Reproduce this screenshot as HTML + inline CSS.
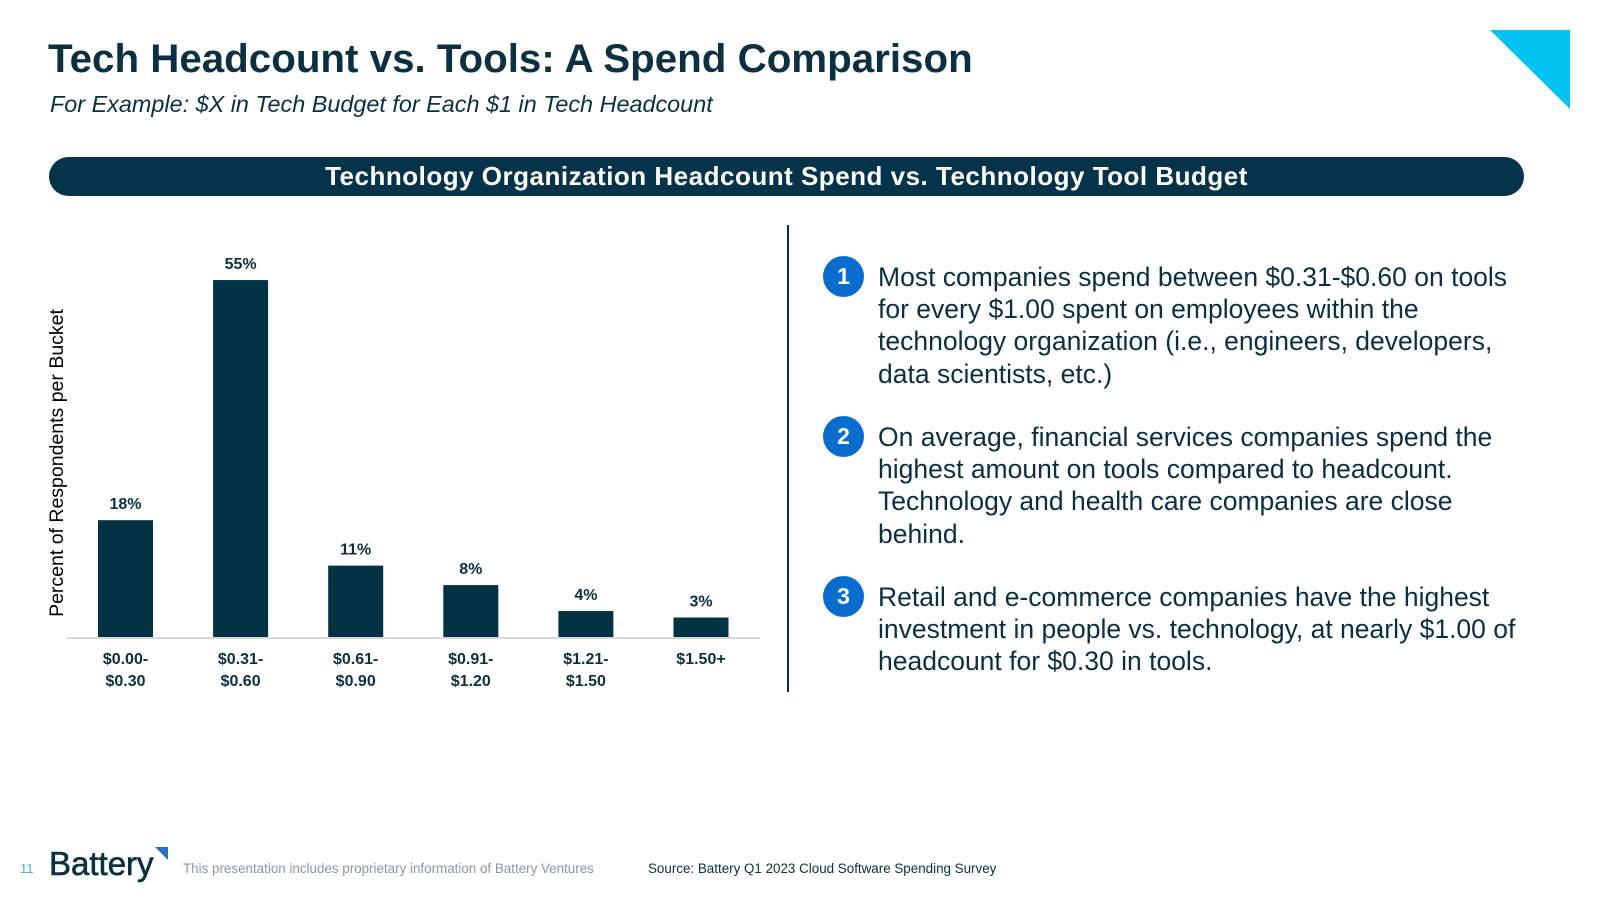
<!DOCTYPE html>
<html><head><meta charset="utf-8"><style>
body{margin:0;width:1600px;height:900px;background:#fff;position:relative;overflow:hidden;font-family:"Liberation Sans",sans-serif;color:#0a3042}
.abs{position:absolute}
.pt{position:absolute;left:878px;width:655px;font-size:26.5px;line-height:32.2px;letter-spacing:0;color:#0b2f42}
.num{position:absolute;left:823px;width:41px;height:41px;border-radius:50%;background:#0a6ccf;color:#fff;font-size:23px;font-weight:bold;text-align:center;line-height:41px}
</style></head><body>
<div class="abs" style="left:48px;top:36px;font-size:40.3px;font-weight:bold;color:#0a3042">Tech Headcount vs. Tools: A Spend Comparison</div>
<div class="abs" style="left:50px;top:91px;font-size:23.4px;font-style:italic;color:#0a3042">For Example: $X in Tech Budget for Each $1 in Tech Headcount</div>
<svg class="abs" style="left:1490px;top:30px" width="81" height="80"><polygon points="0,0 80,0 80,79" fill="#00c2f3"/></svg>
<div class="abs" style="left:49px;top:157px;width:1475px;height:39px;border-radius:20px;background:#05334a;color:#fff;font-size:26px;letter-spacing:0.5px;font-weight:bold;text-align:center;line-height:39px">Technology Organization Headcount Spend vs. Technology Tool Budget</div>
<div class="abs" style="left:787px;top:225px;width:2px;height:467px;background:#0a3042"></div>
<svg class="abs" id="chart" style="left:0;top:0" width="780" height="720"></svg>
<div class="num" style="top:256px">1</div>
<div class="pt" style="top:261px">Most companies spend between $0.31-$0.60 on tools for every $1.00 spent on employees within the technology organization (i.e., engineers, developers, data scientists, etc.)</div>
<div class="num" style="top:416px">2</div>
<div class="pt" style="top:421px">On average, financial services companies spend the highest amount on tools compared to headcount. Technology and health care companies are close behind.</div>
<div class="num" style="top:576px">3</div>
<div class="pt" style="top:581px">Retail and e-commerce companies have the highest investment in people vs. technology, at nearly $1.00 of headcount for $0.30 in tools.</div>
<div class="abs" style="left:20px;top:861px;font-size:13px;color:#3fb5e0">11</div>
<div class="abs" style="left:49px;top:845px;font-size:33px;color:#0a3042;-webkit-text-stroke:0.6px #0a3042">Battery</div>
<svg class="abs" style="left:155px;top:847px" width="14" height="14"><polygon points="0,0 13,0 13,13" fill="#2d6fbf"/></svg>
<div class="abs" style="left:183px;top:861px;font-size:13.4px;color:#8a96a3">This presentation includes proprietary information of Battery Ventures</div>
<div class="abs" style="left:648px;top:861px;font-size:13.4px;color:#0a3042">Source: Battery Q1 2023 Cloud Software Spending Survey</div>
<script>
const categories=[["$0.00-","$0.30"],["$0.31-","$0.60"],["$0.61-","$0.90"],["$0.91-","$1.20"],["$1.21-","$1.50"],["$1.50+"]];
const values=[18,55,11,8,4,3];
const valueLabels=["18%","55%","11%","8%","4%","3%"];
const svg=document.getElementById('chart');const NS='http://www.w3.org/2000/svg';
const base=637, ppu=6.49, x0=125.5, step=115.1, bw=55;
const y=v=>base-v*ppu, x=i=>x0+i*step;
function mk(t,a){const e=document.createElementNS(NS,t);for(const k in a)e.setAttribute(k,a[k]);svg.appendChild(e);return e;}
const ax=mk('line',{x1:67,x2:760,y1:base+1,y2:base+1,stroke:'#d5d8dc','stroke-width':2});


const yt=mk('text',{x:0,y:0,transform:'translate(63,463) rotate(-90)','text-anchor':'middle','font-size':19.5,fill:'#000','font-family':'Liberation Sans'});
yt.textContent='Percent of Respondents per Bucket';


values.forEach((v,i)=>{
 const r=mk('rect',{x:x(i)-bw/2,y:y(v),width:bw,height:base-y(v),fill:'#033245'});
 
 
 const t=mk('text',{x:x(i),y:y(v)-11,'text-anchor':'middle','font-size':16,'font-weight':'bold',fill:'#0a3042','font-family':'Liberation Sans'});
 t.textContent=valueLabels[i];
 
 
 categories[i].forEach((c,j)=>{
  const l=mk('text',{x:x(i),y:base+27+j*22,'text-anchor':'middle','font-size':16,'font-weight':'bold',fill:'#0a3042','font-family':'Liberation Sans'});
  l.textContent=c;
  
  
 });
});
</script>
</body></html>
